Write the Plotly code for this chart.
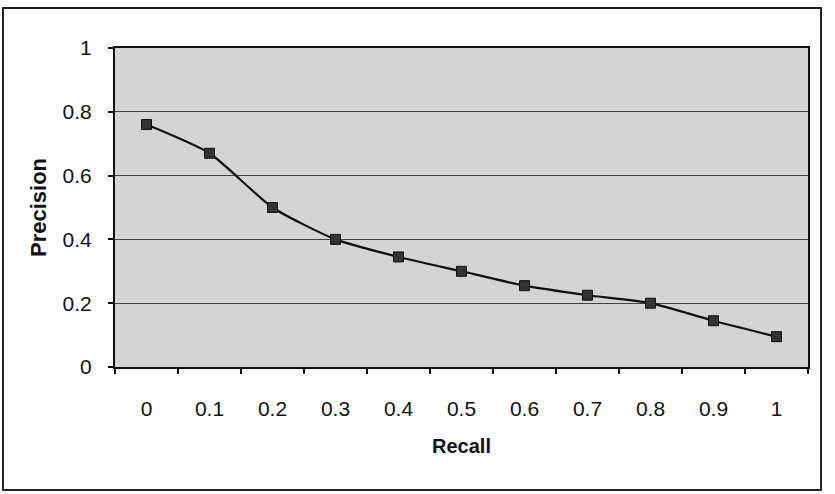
import plotly.graph_objects as go

recall = ["0", "0.1", "0.2", "0.3", "0.4", "0.5", "0.6", "0.7", "0.8", "0.9", "1"]
precision = [0.76, 0.67, 0.50, 0.40, 0.345, 0.30, 0.255, 0.225, 0.20, 0.145, 0.095]
y_ticks = [0, 0.2, 0.4, 0.6, 0.8, 1]
y_tick_labels = ["0", "0.2", "0.4", "0.6", "0.8", "1"]

W, H = 835, 494
L, R, T, B = 115, 27, 48, 127
pw, ph = W - L - R, H - T - B

fig = go.Figure()
fig.add_trace(go.Scatter(
    x=recall, y=precision, mode="lines+markers",
    line=dict(color="#111111", width=2.2, shape="spline", smoothing=0.6),
    marker=dict(symbol="square", size=10, color="#333333",
                line=dict(color="#111111", width=1)),
    showlegend=False,
))

font = dict(family="Liberation Sans, Arial, sans-serif", color="#111111")

fig.update_layout(
    width=W, height=H,
    margin=dict(l=L, r=R, t=T, b=B),
    paper_bgcolor="white",
    plot_bgcolor="#d4d4d4",
    font=font,
    xaxis=dict(
        type="category", tickson="boundaries", ticks="outside", ticklen=5,
        range=[-0.5, len(recall) - 0.5],
        tickcolor="#111111", tickwidth=1.5,
        showgrid=False, showline=True, linecolor="#111111", linewidth=2,
        mirror=True, tickfont=dict(size=21), ticklabelstandoff=22,
        title=dict(text="<b>Recall</b>", font=dict(size=20), standoff=20),
    ),
    yaxis=dict(
        range=[0, 1], tickvals=y_ticks, ticktext=y_tick_labels,
        ticks="outside", ticklen=5, tickcolor="#111111", tickwidth=1.5,
        showgrid=True, gridcolor="#444444", gridwidth=1,
        showline=True, linecolor="#111111", linewidth=2, mirror=True,
        zeroline=False, tickfont=dict(size=21), ticklabelstandoff=12,
        title=dict(text="<b>Precision</b>", font=dict(size=22), standoff=10),
    ),
)

# outer chart border
x0 = (3 - L) / pw
x1 = (821 - L) / pw
y1 = (H - B - 8) / ph
y0 = (H - B - 490) / ph
fig.add_shape(type="rect", xref="paper", yref="paper",
              x0=x0, x1=x1, y0=y0, y1=y1,
              line=dict(color="#222222", width=2), layer="below")

fig.write_html("out.html")
